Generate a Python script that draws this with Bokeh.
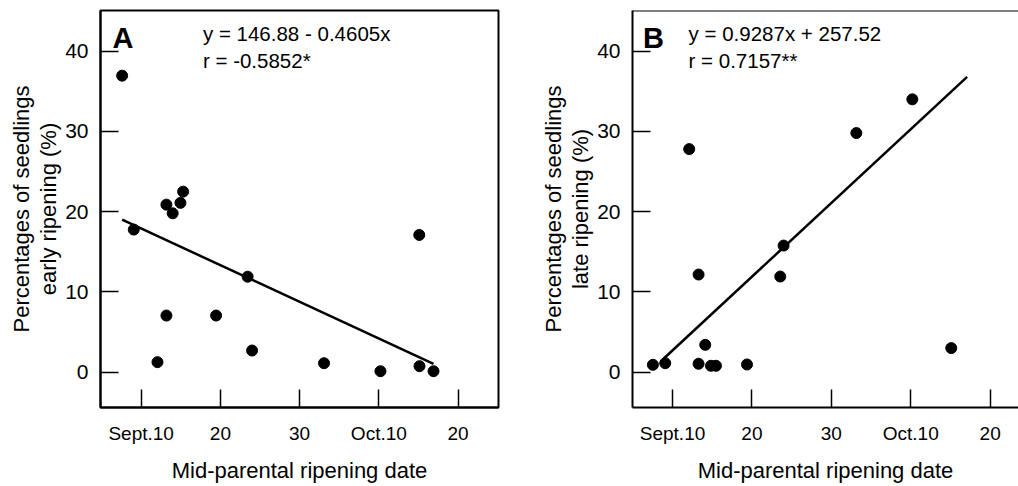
from bokeh.plotting import figure
from bokeh.models import FixedTicker, Label, Span
from bokeh.layouts import row
from bokeh.embed import file_html
from bokeh.resources import INLINE

FONT = "Liberation Sans"

# ---- data (x: days counted from Sept.0; Oct.10 = 40) ----
x_ticks = [10, 20, 30, 40, 50]
x_tick_labels = ["Sept.10", "20", "30", "Oct.10", "20"]
y_ticks = [0, 10, 20, 30, 40]

early_x = [7.6, 9.07, 12.06, 13.19, 13.19, 13.98, 14.96, 15.3, 19.46, 23.44, 24.0, 33.08, 40.2, 45.1, 45.13, 46.9]
early_y = [36.95, 17.77, 1.25, 20.88, 7.06, 19.8, 21.1, 22.5, 7.06, 11.9, 2.7, 1.12, 0.12, 17.1, 0.75, 0.12]
early_fit_x = [7.6, 46.9]
early_fit_y = [19.0, 1.05]

late_x = [7.53, 9.08, 12.1, 13.28, 13.28, 14.12, 14.84, 15.47, 19.38, 23.57, 23.99, 33.15, 40.2, 45.1]
late_y = [0.92, 1.12, 27.8, 12.17, 1.05, 3.41, 0.8, 0.8, 0.96, 11.92, 15.78, 29.8, 34.0, 3.0]
late_fit_x = [8.87, 47.1]
late_fit_y = [1.67, 36.8]

Y_START, Y_END = -4.4, 45.07


def make_panel(xs, ys, fx, fy, ylabel, letter, eq1, eq2, x_range, width,
               border_left, border_right, letter_x, eq_x, full_outline):
    p = figure(width=width, height=486, x_range=x_range, y_range=(Y_START, Y_END),
               output_backend="svg", toolbar_location=None,
               min_border_left=border_left, min_border_right=border_right,
               min_border_top=10, min_border_bottom=79)
    p.grid.visible = False
    p.background_fill_color = "white"
    p.border_fill_color = "white"
    if full_outline:
        p.outline_line_color = "black"
        p.outline_line_width = 2
    else:
        p.outline_line_color = None
        p.add_layout(Span(location=Y_END, dimension="width", line_color="black", line_width=2))

    p.xaxis.ticker = FixedTicker(ticks=x_ticks)
    p.xaxis.major_label_overrides = {t: l for t, l in zip(x_ticks, x_tick_labels)}
    p.yaxis.ticker = FixedTicker(ticks=y_ticks)
    for ax in (p.xaxis[0], p.yaxis[0]):
        ax.axis_line_color = "black"
        ax.axis_line_width = 2
        ax.major_tick_in = 18
        ax.major_tick_out = 0
        ax.major_tick_line_width = 1.5
        ax.major_tick_line_color = "black"
        ax.minor_tick_line_color = None
        ax.major_label_text_font = FONT
        ax.major_label_text_color = "black"
        ax.axis_label_text_font = FONT
        ax.axis_label_text_font_style = "normal"
        ax.axis_label_text_color = "black"
        ax.axis_label_text_font_size = "22px"
    p.xaxis.major_label_text_font_size = "19px"
    p.xaxis.major_label_standoff = 15
    p.xaxis.axis_label = "Mid-parental ripening date"
    p.xaxis.axis_label_standoff = 11
    p.yaxis.major_label_text_font_size = "21px"
    p.yaxis.major_label_standoff = 12
    p.yaxis.axis_label = ylabel
    p.yaxis.axis_label_standoff = 1
    p.yaxis.axis_label_text_line_height = 1.1

    p.line(fx, fy, line_color="black", line_width=2.5)
    p.scatter(xs, ys, size=11, fill_color="black", line_color="black")

    p.add_layout(Label(x=letter_x, y=41.6, text=letter, text_font=FONT,
                       text_font_size="29px", text_font_style="bold",
                       text_color="black", text_baseline="middle"))
    p.add_layout(Label(x=eq_x, y=42.2, text=eq1, text_font=FONT,
                       text_font_size="20.5px", text_color="black",
                       text_baseline="middle"))
    p.add_layout(Label(x=eq_x, y=38.8, text=eq2, text_font=FONT,
                       text_font_size="20.5px", text_color="black",
                       text_baseline="middle"))
    return p


pa = make_panel(early_x, early_y, early_fit_x, early_fit_y,
                "Percentages of seedlings\nearly ripening (%)", "A",
                "y = 146.88 - 0.4605x", "r = -0.5852*",
                (4.87, 55.1), 508, 100, 10, 6.38, 17.8, True)
pb = make_panel(late_x, late_y, late_fit_x, late_fit_y,
                "Percentages of seedlings\nlate ripening (%)", "B",
                "y = 0.9287x + 257.52", "r = 0.7157**",
                (4.96, 53.57), 510, 124, 0, 6.27, 12.02, False)

layout = row(pa, pb)
open("out.html", "w").write(file_html(layout, INLINE))
